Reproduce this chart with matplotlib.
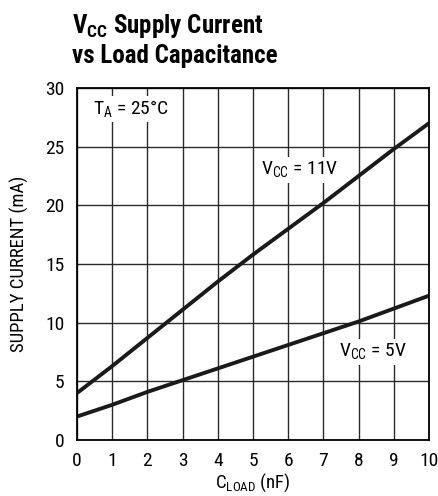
import matplotlib
matplotlib.use("Agg")
import matplotlib.pyplot as plt

plt.rcParams['font.family'] = ['Roboto Condensed', 'Liberation Sans', 'DejaVu Sans']

cload = [0, 1, 2, 3, 4, 5, 6, 7, 8, 9, 10]
i_11v = [4.0, 6.3, 8.7, 11.1, 13.5, 15.8, 18.0, 20.2, 22.5, 24.8, 27.0]
i_5v = [2.0, 3.0, 4.1, 5.1, 6.1, 7.1, 8.1, 9.1, 10.1, 11.2, 12.3]
xticks = list(range(0, 11))
yticks = [0, 5, 10, 15, 20, 25, 30]

fig = plt.figure(figsize=(4.39, 4.96), dpi=100)
ax = fig.add_axes([77/439, 1-440/496, 352/439, 352/496])
ax.set_xlim(0, 10)
ax.set_ylim(0, 30)
ax.set_xticks(xticks)
ax.set_yticks(yticks)
ax.tick_params(length=0, labelsize=14, pad=9)
ax.grid(True, color='#2a2a2a', linewidth=1.0)
ax.set_axisbelow(True)
for s in ax.spines.values():
    s.set_linewidth(1.3)
    s.set_color('black')

ax.plot(cload, i_11v, color='#1a1a1a', linewidth=2.8, solid_capstyle='butt')
ax.plot(cload, i_5v, color='#1a1a1a', linewidth=2.8, solid_capstyle='butt')

bbox = dict(facecolor='white', edgecolor='none', pad=2)
ax.text(0.45, 28.2, r'T$_\mathregular{A}$ = 25°C', fontsize=14, va='center', ha='left', bbox=bbox)
ax.text(6.33, 23.0, r'V$_\mathregular{CC}$ = 11V', fontsize=14, va='center', ha='center', bbox=bbox)
ax.text(8.4, 7.5, r'V$_\mathregular{CC}$ = 5V', fontsize=14, va='center', ha='center', bbox=bbox)

ax.set_ylabel('SUPPLY CURRENT (mA)', fontsize=13.5, labelpad=12)
ax.set_xlabel(r'C$_\mathregular{LOAD}$ (nF)', fontsize=13.5, labelpad=1)

fig.text(72/439, 1-12/496, r'V$_\mathregular{CC}$ Supply Current' + '\nvs Load Capacitance',
         fontsize=18, fontweight='bold', va='top', ha='left', linespacing=1.2)

fig.savefig('out.png', dpi=100)
